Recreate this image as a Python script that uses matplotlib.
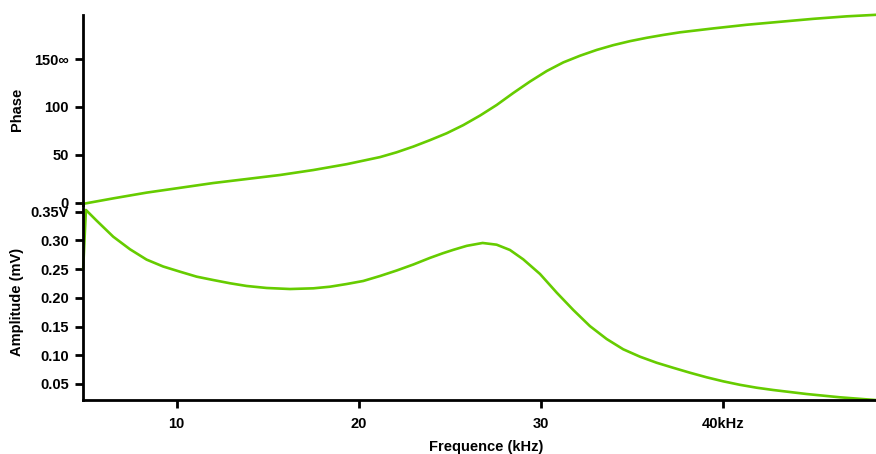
import matplotlib
matplotlib.use("Agg")
import matplotlib.pyplot as plt

# Data
phase_freq = [4.87, 6.52, 8.35, 10.18, 12.0, 13.84, 15.67, 17.5, 19.33, 21.16, 22.07, 22.99,
              23.9, 24.82, 25.73, 26.65, 27.56, 28.47, 29.39, 30.31, 31.22, 32.14, 33.05,
              33.96, 34.88, 35.8, 36.71, 37.62, 39.45, 41.28, 43.11, 44.94, 46.77, 48.38]
phase_vals = [-1.2, 4.5, 10.5, 15.5, 20.5, 24.7, 28.9, 34.1, 40.2, 47.6, 52.6, 58.6,
              65.3, 72.5, 81.0, 91.0, 102.0, 114.5, 126.5, 137.5, 146.5, 153.5, 159.5,
              164.5, 168.7, 172.2, 175.2, 177.9, 182.0, 185.8, 188.9, 192.0, 194.6, 196.2]

amp_freq = [4.87, 5.02, 5.61, 6.52, 7.44, 8.35, 9.26, 10.18, 11.1, 12.0, 12.93, 13.84, 14.94,
            16.22, 17.5, 18.41, 19.33, 20.24, 21.16, 22.07, 22.99, 23.9, 24.6, 25.18, 25.92,
            26.79, 27.56, 28.29, 29.02, 29.94, 30.86, 31.77, 32.68, 33.6, 34.51, 35.43, 36.34,
            37.26, 38.17, 39.09, 40.0, 40.92, 41.83, 42.74, 44.58, 46.4, 48.32]
amp_vals = [0.2514, 0.353, 0.3343, 0.3064, 0.2845, 0.2665, 0.2545, 0.2455, 0.2368, 0.231,
            0.2253, 0.2206, 0.2171, 0.2153, 0.2165, 0.2193, 0.224, 0.2293, 0.238, 0.2475,
            0.258, 0.2695, 0.2775, 0.2835, 0.2905, 0.2955, 0.2925, 0.2833, 0.267, 0.2415,
            0.2089, 0.1787, 0.1507, 0.1282, 0.1103, 0.0974, 0.0869, 0.0780, 0.0695, 0.0615,
            0.0545, 0.0484, 0.0434, 0.0394, 0.0324, 0.0267, 0.022]

phase_ticks = [0, 50, 100, 150]
phase_ticklabels = ["0", "50", "100", "150\u221e"]
amp_ticks = [0.05, 0.10, 0.15, 0.20, 0.25, 0.30, 0.35]
amp_ticklabels = ["0.05", "0.10", "0.15", "0.20", "0.25", "0.30", "0.35V"]
freq_ticks = [10, 20, 30, 40]
freq_ticklabels = ["10", "20", "30", "40kHz"]

plt.rcParams['font.family'] = ['Liberation Sans', 'DejaVu Sans']
plt.rcParams['font.weight'] = 'bold'
plt.rcParams['axes.labelweight'] = 'bold'

W, H = 876, 454
fig = plt.figure(figsize=(W / 100, H / 100), dpi=100)

def frac(x0, y0, x1, y1):
    return [x0 / W, 1 - y1 / H, (x1 - x0) / W, (y1 - y0) / H]

green = '#66CC00'
ax1 = fig.add_axes(frac(83, 15, 876, 204.5))
ax2 = fig.add_axes(frac(83, 204.5, 876, 400))

for ax in (ax1, ax2):
    for s in ('top', 'right'):
        ax.spines[s].set_visible(False)
    ax.spines['left'].set_linewidth(2)
    ax.spines['bottom'].set_linewidth(2)
    ax.tick_params(direction='out', width=2, length=6, labelsize=10.5, colors='black', pad=4)
    ax.set_xlim(4.86, 48.38)
    ax.patch.set_visible(False)

ax1.spines['bottom'].set_visible(False)
ax1.plot(phase_freq, phase_vals, color=green, lw=1.9, clip_on=False, solid_joinstyle='round')
ax1.set_ylim(-1.9, 196)
ax1.set_yticks(phase_ticks)
ax1.set_yticklabels(phase_ticklabels)
ax1.set_xticks([])
ax1.set_ylabel('Phase', fontsize=10.5, fontweight='bold')
ax1.yaxis.set_label_coords(-0.074, 0.5)

ax2.plot(amp_freq, amp_vals, color=green, lw=1.9, clip_on=False, solid_joinstyle='round')
ax2.set_ylim(0.022, 0.3625)
ax2.set_yticks(amp_ticks)
ax2.set_yticklabels(amp_ticklabels)
ax2.set_xticks(freq_ticks)
ax2.set_xticklabels(freq_ticklabels)
ax2.tick_params(axis='x', pad=6)
ax2.set_ylabel('Amplitude (mV)', fontsize=10.5, fontweight='bold')
ax2.yaxis.set_label_coords(-0.074, 0.5)
ax2.set_xlabel('Frequence (kHz)', fontsize=10.5, fontweight='bold')
ax2.xaxis.set_label_coords(0.508, -0.205)
ax2.xaxis.label.set_va('top')

for lab in ax1.get_yticklabels() + ax2.get_yticklabels() + ax2.get_xticklabels():
    lab.set_fontweight('bold')

fig.savefig('out.png', dpi=100)
